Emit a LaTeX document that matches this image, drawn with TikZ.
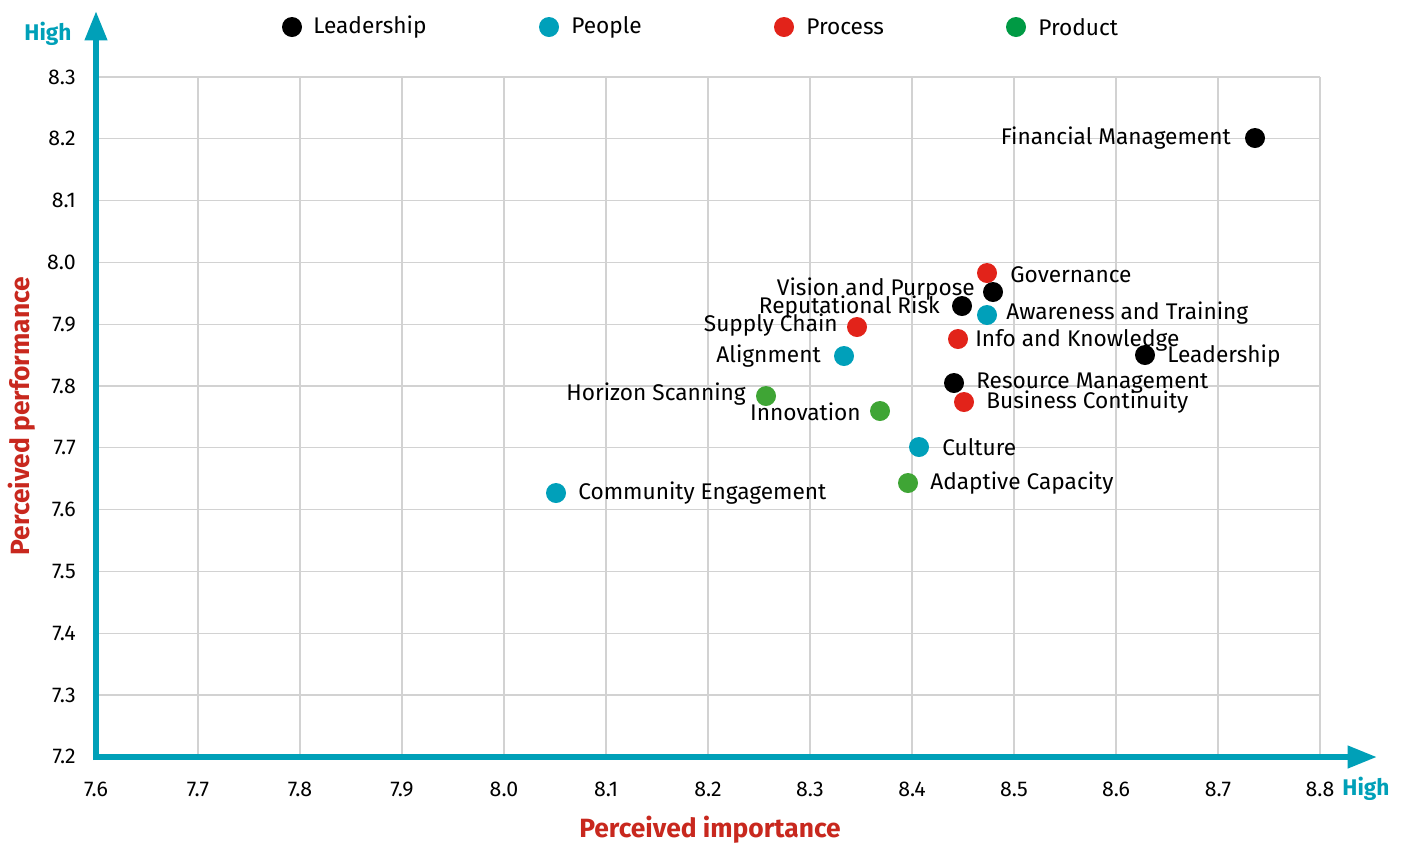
\documentclass[tikz,border=0pt]{standalone}
\usepackage{fontspec}
\setmainfont{Fira Sans}
\usetikzlibrary{arrows.meta}
\definecolor{axteal}{RGB}{0,160,184}
\definecolor{ttlred}{RGB}{200,40,30}
\definecolor{cteal}{RGB}{0,160,186}
\definecolor{cred}{RGB}{226,35,26}
\definecolor{cgreen}{RGB}{63,165,53}
\definecolor{lgreen}{RGB}{0,154,68}
\definecolor{gridgray}{RGB}{210,210,210}
\tikzset{
  dot/.style={circle,inner sep=0pt,minimum size=15pt,fill=#1},
  lbl/.style={inner sep=0pt,font=\fontsize{17}{20}\selectfont},
  tick/.style={inner sep=0pt,font=\fontsize{16}{18}\selectfont},
  hightxt/.style={inner sep=0pt,text=axteal,font=\bfseries\fontsize{17}{20}\selectfont},
  axtitle/.style={inner sep=0pt,text=ttlred,font=\bfseries\fontsize{19.8}{22}\selectfont},
  gridline/.style={draw=gridgray,line width=0.9pt},
  axisline/.style={draw=axteal,line width=4.5pt,-{Triangle[length=22pt,width=16pt]}}
}
\begin{document}
\begin{tikzpicture}[x=0.75pt,y=-0.75pt]
\useasboundingbox (0,0) rectangle (1405,844);
% grid
\foreach \i in {1,...,12} {
  \draw[gridline] ({96+\i*102},77) -- ({96+\i*102},757);
}
\foreach \j in {0,...,10} {
  \draw[gridline] (96,{77+\j*61.8}) -- (1320,{77+\j*61.8});
}
% tick labels
\foreach \v [count=\i from 0] in {7.6,7.7,7.8,7.9,8.0,8.1,8.2,8.3,8.4,8.5,8.6,8.7,8.8} {
  \node[tick] (xt\i) at ({96+\i*102},789) {\v};
}
\foreach \v [count=\j from 0] in {8.3,8.2,8.1,8.0,7.9,7.8,7.7,7.6,7.5,7.4,7.3,7.2} {
  \node[tick,anchor=east] (yt\j) at (76,{77+\j*61.8}) {\v};
}
% axes
\coordinate (origin) at (96,757);
\coordinate (ytop) at (96,11);
\coordinate (xright) at (1377,757);
\draw[axisline] ([yshift=-2.25pt]origin) -- (ytop);
\draw[axisline] ([xshift=-2.25pt]origin) -- (xright);
\node[hightxt] (hy) at (48,34) {High};
\node[hightxt] (hx) at (1366,789) {High};
\node[axtitle] (xtitle) at (710,830) {Perceived importance};
\node[axtitle,rotate=90] (ytitle) at (22,416) {Perceived performance};
% legend
\node[dot=black] (l1) at (292,27) {};
\node[lbl,anchor=west] (l1t) at (313,27) {Leadership};
\node[dot=cteal] (l2) at (549,27) {};
\node[lbl,anchor=west] (l2t) at (571,27) {People};
\node[dot=cred] (l3) at (784,27) {};
\node[lbl,anchor=west] (l3t) at (806,27) {Process};
\node[dot=lgreen] (l4) at (1016,27) {};
\node[lbl,anchor=west] (l4t) at (1038,27) {Product};
% data points
\node[dot=black] (fm) at (1255,138) {};
\node[lbl,anchor=east] at (1231,138) {Financial Management};
\node[dot=cred] (gov) at (987,273) {};
\node[lbl,anchor=west] at (1010,275) {Governance};
\node[dot=black] (vp) at (993,292) {};
\node[lbl,anchor=east] at (975,289) {Vision and Purpose};
\node[dot=black] (rr) at (962,306) {};
\node[lbl,anchor=east] at (940,307) {Reputational Risk};
\node[dot=cteal] (at) at (987,315) {};
\node[lbl,anchor=west] at (1006,313) {Awareness and Training};
\node[dot=cred] (sc) at (857,327) {};
\node[lbl,anchor=east] at (838,325) {Supply Chain};
\node[dot=cred] (ik) at (958,339) {};
\node[lbl,anchor=west] at (975,340) {Info and Knowledge};
\node[dot=cteal] (al) at (844,356) {};
\node[lbl,anchor=east] at (821,356) {Alignment};
\node[dot=black] (ld) at (1145,355) {};
\node[lbl,anchor=west] at (1167,356) {Leadership};
\node[dot=black] (rm) at (954,383) {};
\node[lbl,anchor=west] at (976,383) {Resource Management};
\node[dot=cgreen] (hs) at (766,396) {};
\node[lbl,anchor=east] at (746,394) {Horizon Scanning};
\node[dot=cred] (bc) at (964,402) {};
\node[lbl,anchor=west] at (986,402) {Business Continuity};
\node[dot=cgreen] (inn) at (880,411) {};
\node[lbl,anchor=east] at (861,412) {Innovation};
\node[dot=cteal] (cu) at (919,447) {};
\node[lbl,anchor=west] at (942,447) {Culture};
\node[dot=cgreen] (ac) at (908,483) {};
\node[lbl,anchor=west] at (930,483) {Adaptive Capacity};
\node[dot=cteal] (ce) at (556,493) {};
\node[lbl,anchor=west] at (578,493) {Community Engagement};
\end{tikzpicture}
\end{document}
